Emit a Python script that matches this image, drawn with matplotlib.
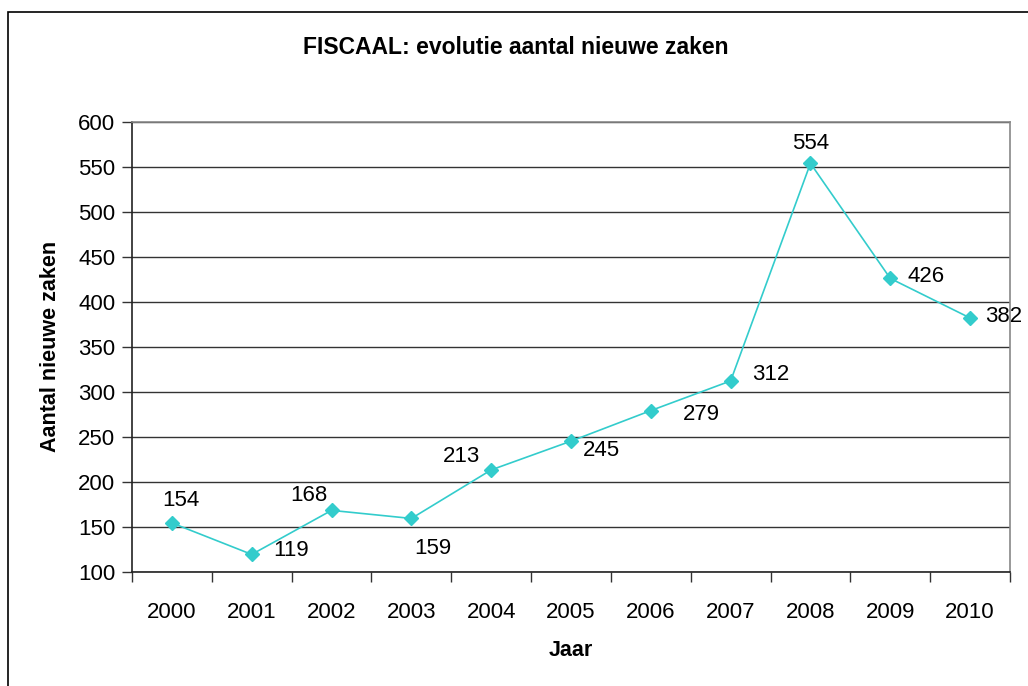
import matplotlib.pyplot as plt
from matplotlib.patches import Rectangle

plt.rcParams['font.family'] = ['Liberation Sans', 'DejaVu Sans']

# data
jaren = ['2000', '2001', '2002', '2003', '2004', '2005', '2006', '2007', '2008', '2009', '2010']
zaken = [154, 119, 168, 159, 213, 245, 279, 312, 554, 426, 382]

# label offsets in pixels (dx, dy), as placed in the original
label_offsets = [(9, 22), (39, 4), (-23, 15), (21, -30), (-30, 13), (30, -9),
                 (51, -4), (40, 6), (0, 20), (36, 2), (34, 1)]

fig = plt.figure(figsize=(10.28, 6.86), dpi=100)
ax = fig.add_axes([132 / 1028, 1 - 571.5 / 686, (1010 - 132) / 1028, (571.5 - 122) / 686])

x = list(range(len(jaren)))
ax.plot(x, zaken, color='#33CCCC', linewidth=1.2, marker='D', markersize=7,
        markerfacecolor='#33CCCC', markeredgecolor='#33CCCC', zorder=3)

for xi, yi, (dx, dy) in zip(x, zaken, label_offsets):
    ax.annotate(str(yi), (xi, yi), xytext=(dx, dy), textcoords='offset pixels',
                ha='center', va='center', fontsize=16, color='black', zorder=4,
                annotation_clip=False)

ax.set_xlim(-0.5, len(jaren) - 0.5)
ax.set_ylim(100, 600)
ax.set_yticks(range(100, 601, 50))
ax.yaxis.grid(True, color='#333333', linewidth=1.0)
ax.set_axisbelow(True)

ax.set_xticks(x)
ax.set_xticklabels(jaren)
ax.set_xticks([i - 0.5 for i in range(len(jaren) + 1)], minor=True)
ax.tick_params(axis='x', which='major', length=0, pad=22, labelsize=16)
ax.tick_params(axis='x', which='minor', length=7, width=1, color='#333333')
ax.tick_params(axis='y', length=7, width=1, color='#333333', labelsize=16, pad=5)

for side in ['top', 'right']:
    ax.spines[side].set_color('#888888')
    ax.spines[side].set_linewidth(1.2)
for side in ['left', 'bottom']:
    ax.spines[side].set_color('#222222')
    ax.spines[side].set_linewidth(1.2)

ax.set_xlabel('Jaar', fontsize=15.5, fontweight='bold', labelpad=12)
ax.set_ylabel('Aantal nieuwe zaken', fontsize=15.5, fontweight='bold', labelpad=12)

fig.text(516 / 1028, 1 - 48 / 686, 'FISCAAL: evolutie aantal nieuwe zaken',
         ha='center', va='center', fontsize=16.5, fontweight='bold')

# outer chart border (runs off the right and bottom edges)
fig.patches.append(Rectangle((8 / 1028, -0.1), 1.2, 1.1 - 12 / 686, transform=fig.transFigure,
                             fill=False, edgecolor='black', linewidth=1.2))

fig.savefig('out.png', dpi=100)
